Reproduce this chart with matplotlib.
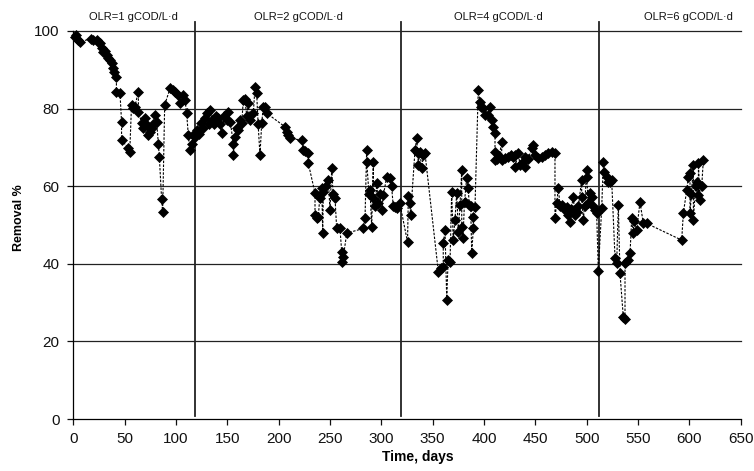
import matplotlib
matplotlib.use("Agg")
import matplotlib.pyplot as plt

plt.rcParams['font.family'] = ['Liberation Sans', 'DejaVu Sans']

days = [
    1.6, 3, 5, 6.5, 17, 19, 23, 25, 26, 27.6, 29, 30.5, 32.5, 34, 35.5, 37.4, 39, 39.5, 42, 42,
    45.5, 47, 47, 53.6, 55, 56.7, 58, 60, 63.3, 63.5, 66.6, 68, 69.8, 71.5, 73, 74.7, 76.4, 78,
    79.6, 81.2, 82.8, 83.8, 86, 87, 89, 94.2, 97, 99, 102, 104, 107, 108.8, 110.4, 112, 113.6,
    115.3, 117,
    119, 120, 122, 124, 126, 128, 130, 132, 133, 135, 137, 139, 141, 143, 144.5, 147, 149.4, 151,
    153, 155.8, 155.8, 157.5, 159, 160.7, 162, 164, 165.6, 167, 169, 170.4, 172, 175.3, 177, 178.6,
    180, 181.8, 183.5, 185, 186.7, 188.4,
    206.2, 207.8, 209, 211, 222.4, 224, 225.6, 228.9, 228.9, 235.4, 235.4, 237, 238.6, 240, 242,
    242.9, 243.5, 246, 248.4, 250, 251.7, 253, 254.9, 256.5, 259.7, 261.4, 261.4, 263, 266.3,
    282.5, 284.1, 285.7, 285.7, 288, 289, 290.6, 292.2, 292.2, 294, 295.5, 297, 298.5, 300.3, 302,
    305.2, 308.4, 310, 311.6, 313.3, 315, 318,
    325.5, 326.3, 327.5, 328.5, 332.8, 334.4, 335.5, 336, 337.6, 339.3, 341, 342.5, 355.5, 358,
    360.3, 360.3, 362, 363.7, 365, 366.9, 368.5, 370, 371.7, 373.4, 375, 376.6, 378.3, 378.3,
    379.5, 381, 383.1, 384.7, 385.5, 387, 388, 389.6, 389.6, 391.2, 394.4, 396.1, 397.5, 399.3,
    401, 404.2, 405.8, 407.5, 409, 410.7, 410.7, 410.7, 413, 415, 417.2, 417.2, 420, 423.6, 426,
    428, 430.2, 430.2, 433.4, 435, 437, 439.9, 439.9, 443, 446.4, 448, 450, 452.9, 456, 459.4,
    462, 465.9, 469.1, 469.1, 470.8, 472.4, 474, 475.6, 478, 480.5, 482, 483.7, 485, 486.9,
    488.5, 490.2, 492, 495.1, 495.1, 496.7, 498, 500, 500, 501.6, 503.2, 504.9, 506.5, 508.1,
    509.7, 511.3,
    514.6, 516.2, 517.2, 519.5, 521, 522.7, 524.3, 527.6, 529.2, 530.8, 532.4, 535.6, 537.3,
    537.3, 540.5, 542.2, 543.8, 545.4, 546, 548.7, 551.9, 555.1, 558.4, 592.5, 594.1, 597.4,
    599, 600.6, 600.6, 602, 603.9, 603.9, 606, 607.2, 608.8, 608.8, 610.3, 612, 613.6,
]

removal = [
    98.5, 99, 97.7, 97.2, 98, 97.8, 97.7, 97, 96.8, 95.5, 94.7, 94.8, 93.8, 93, 92.6, 91.7, 90.4,
    89.5, 88.2, 84.4, 83.9, 76.6, 71.9, 69.8, 68.9, 80.9, 80.2, 80.5, 84.4, 79.2, 76.2, 75, 77.5,
    75.8, 73.2, 74, 74.9, 76, 78.4, 76.6, 71, 67.6, 56.7, 53.3, 80.9, 85.2, 84.8, 84.4, 83.5,
    81.4, 83.5, 82.2, 78.8, 73.2, 69.3, 71, 73.2,
    72.8, 74.5, 73.5, 76.2, 75, 77.5, 78.8, 76, 79.6, 77, 76, 78, 77.5, 76, 73.6, 78, 77, 79,
    76.5, 71, 68, 72.8, 75, 74.5, 77, 76.2, 82.2, 82.6, 78, 81.4, 77, 78.8, 85.6, 83.9, 76, 68,
    76.2, 80.5, 80.5, 78.8,
    75.3, 74, 73.2, 72.3, 71.9, 69.3, 69, 68.5, 65.9, 58.2, 52.6, 51.7, 52, 57, 59.5, 47.9, 58.6,
    60, 61.6, 53.9, 64.6, 58, 56.9, 49.1, 49.1, 43.1, 40.5, 41.8, 47.9, 49.1, 51.7, 69.3, 66.3,
    58, 59, 49.6, 66.3, 56.9, 55, 60.7, 55.6, 58, 53.9, 57.7, 62.4, 62, 60, 54.8, 54.7, 54.3,
    55.6,
    45.6, 57.4, 55.6, 52.6, 69.3, 72.3, 68.5, 65.5, 68.9, 64.6, 68, 68.5, 38, 39, 39.3, 45.3,
    48.7, 30.7, 41, 40.5, 58.6, 46.1, 51.3, 58.2, 48.3, 55.2, 64.2, 49.6, 46.6, 56, 62, 59.5,
    55.2, 55, 42.7, 49.1, 52.1, 54.7, 84.8, 81.8, 80.5, 80.1, 78.4, 78.4, 80.5, 77, 75.3, 73.6,
    68.9, 66.8, 67, 67.8, 71.5, 66.8, 67.2, 67.6, 68, 67.5, 68, 65, 68.5, 65.5, 66, 65, 67.6, 67,
    69.8, 70.6, 68, 67.2, 67.5, 68, 68.5, 68.9, 68.5, 51.7, 55.6, 59.5, 55, 55.2, 54, 54.7, 52.6,
    50.9, 54, 57.3, 52.6, 53.4, 55, 61.6, 57.3, 51.3, 55, 64.2, 62.4, 55.6, 58.2, 57.3, 55,
    53.9, 53, 38.2,
    54.3, 66.3, 63.7, 62.4, 61, 61.2, 61.6, 41.4, 40.1, 55.2, 37.6, 26.4, 25.9, 40.1, 41, 42.7,
    51.7, 47.9, 51, 48.7, 56, 50.4, 50.4, 46.1, 53, 59, 62.4, 63.3, 53, 58, 65.5, 51.3, 60,
    61.2, 57.7, 65.9, 56.4, 60, 66.8,
]

phase_bounds = [118.8, 318.8, 512]
phase_labels = ["OLR=1 gCOD/L·d", "OLR=2 gCOD/L·d", "OLR=4 gCOD/L·d", "OLR=6 gCOD/L·d"]
phase_label_x = [59, 219, 413.6, 598.6]

x_ticks = list(range(0, 651, 50))
y_ticks = list(range(0, 101, 20))

fig = plt.figure(figsize=(7.54, 4.71), dpi=100)
ax = fig.add_axes([0.0972, 0.1104, 0.8852, 0.8238])

ax.set_xlim(0, 650)
ax.set_ylim(0, 100)

for yv in y_ticks[1:]:
    ax.axhline(yv, color='#222222', lw=0.9, zorder=1, clip_on=False)

for xb in phase_bounds:
    ax.plot([xb, xb], [0.8, 102.3], color='#222222', lw=1.3, zorder=2, clip_on=False)

ax.plot(days, removal, linestyle=(0, (2.2, 1.3)), color='black', lw=0.8,
        marker='D', markersize=5.0, markerfacecolor='black', markeredgecolor='black',
        markeredgewidth=0.5, zorder=3, clip_on=False)

for lbl, lx in zip(phase_labels, phase_label_x):
    ax.text(lx, 103.7, lbl, ha='center', va='center', fontsize=8, color='#111111')

ax.spines['top'].set_visible(False)
ax.spines['right'].set_visible(False)
ax.spines['left'].set_linewidth(0.9)
ax.spines['bottom'].set_linewidth(0.9)

ax.set_xticks(x_ticks)
ax.set_yticks(y_ticks)
ax.tick_params(axis='both', direction='out', length=4, width=0.9, labelsize=11, colors='#111111')
ax.tick_params(axis='x', pad=5)
ax.tick_params(axis='y', pad=6)

ax.set_xlabel("Time, days", fontsize=10, fontweight='bold')
ax.set_ylabel("Removal %", fontsize=9, fontweight='bold')
ax.xaxis.set_label_coords(0.516, -0.08)
ax.yaxis.set_label_coords(-0.072, 0.52)

fig.savefig("out.png", dpi=100)
